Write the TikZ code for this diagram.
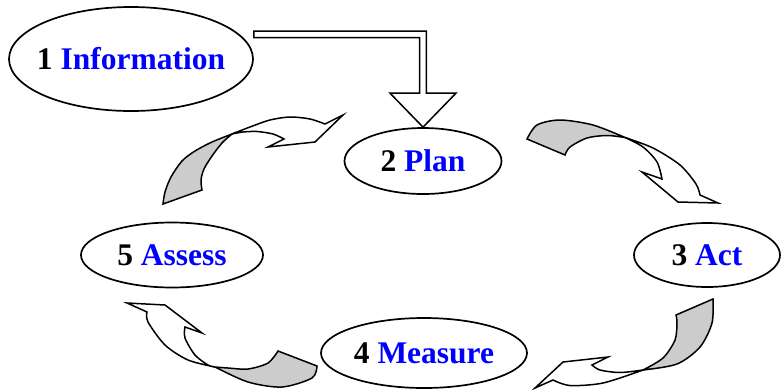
\documentclass[tikz,border=0pt]{standalone}
\usepackage{fontspec}
\setmainfont{Liberation Serif}
\usetikzlibrary{shapes.geometric,calc}
\newcommand{\stagetext}[2]{#1 \textcolor{blue}{#2}}

\begin{document}
\begin{tikzpicture}[x=1pt,y=-1pt,
	stage/.style={shape=ellipse,draw,line width=1.7pt,inner ysep=0pt,inner xsep=-30pt,font=\bfseries\fontsize{31.5}{36}\selectfont},
	front/.style={draw,fill=white,line width=1.5pt},
	back/.style={draw,fill=gray!40,line width=1.5pt}]
	\useasboundingbox (0,0) rectangle (781,389);
	\path (131,59) node (info) [stage, minimum width=244, minimum height=104] {\stagetext{1}{Information}}
		  (423,161) node (plan) [stage, minimum width=157, minimum height=66] {\stagetext{2}{Plan}}
		  (707,255) node (act) [stage, minimum width=146, minimum height=64] {\stagetext{3}{Act}}
		  (424,353) node (measure) [stage, minimum width=206, minimum height=70] {\stagetext{4}{Measure}}
		  (172,255) node (assess) [stage, minimum width=182, minimum height=65] {\stagetext{5}{Assess}};
	\draw[front] (plan.north) -- ($(plan.north)+(33,-34)$) -- ($(plan.north)+(3.3,-34)$) |- ([yshift=28pt]info.east) -- ++(0,6.5) -| ($(plan.north)+(-3.3,-34)$) -- ($(plan.north)+(-33,-34)$) -- cycle;
	\draw[back] (163,204) -- (202,190) -- plot[smooth] coordinates {(202,190) (201,180) (204,169) (212,156) (222,143) (232,134)} -- plot[smooth] coordinates {(232,134) (212,142) (195,151) (182,161) (171,177) (165,192) (163,204)} -- cycle;
	\draw[front] (232,134) -- plot[smooth] coordinates {(232,134) (250,127) (270,120) (290,117) (310,119) (325,124)} -- (343,115) -- (315,142) -- (268,147) -- (284,139) -- plot[smooth] coordinates {(284,139) (273,134) (257,131.5) (243,132) (232,134)} -- cycle;
	\draw[back] (527,139) -- (565,155) -- plot[smooth] coordinates {(565,155) (570,147) (587,138) (607,135.5) (625,137.5)} -- plot[smooth] coordinates {(625,137.5) (593,125) (560,120) (537,125) (527,139)} -- cycle;
	\draw[front] (625,137.5) -- plot[smooth] coordinates {(625,137.5) (653,148) (680,165) (696,184) (700,195)} -- (718,203) -- (678,202) -- (642,172) -- (662,179) -- plot[smooth] coordinates {(662,179) (657,162) (643,147) (625,137.5)} -- cycle;
	\draw[back] (676,315) -- (713,299) -- plot[smooth] coordinates {(713,299) (712,323) (700,347) (677,364) (643,370)} -- plot[smooth] coordinates {(643,370) (663,358) (675,340) (677,323) (676,315)} -- cycle;
	\draw[front] (643,370) -- plot[smooth] coordinates {(643,370) (603,383) (570,385.5) (553,380)} -- (535,388) -- (563,362) -- (608,357) -- (592,365) -- plot[smooth] coordinates {(592,365) (600,370) (620,372.5) (643,370)} -- cycle;
	\draw[back] (278,351) -- (317,366) -- plot[smooth] coordinates {(317,366) (312,378) (282,387) (248,382) (215,367)} -- plot[smooth] coordinates {(215,367) (228,368) (248,369) (268,363) (278,351)} -- cycle;
	\draw[front] (215,367) -- plot[smooth] coordinates {(215,367) (188,360) (165,345) (148,322) (147,312)} -- (127,303) -- (165,305) -- (202,333) -- (185,327) -- plot[smooth] coordinates {(185,327) (185,338) (195,355) (208,365) (215,367)} -- cycle;
\end{tikzpicture}
\end{document}
